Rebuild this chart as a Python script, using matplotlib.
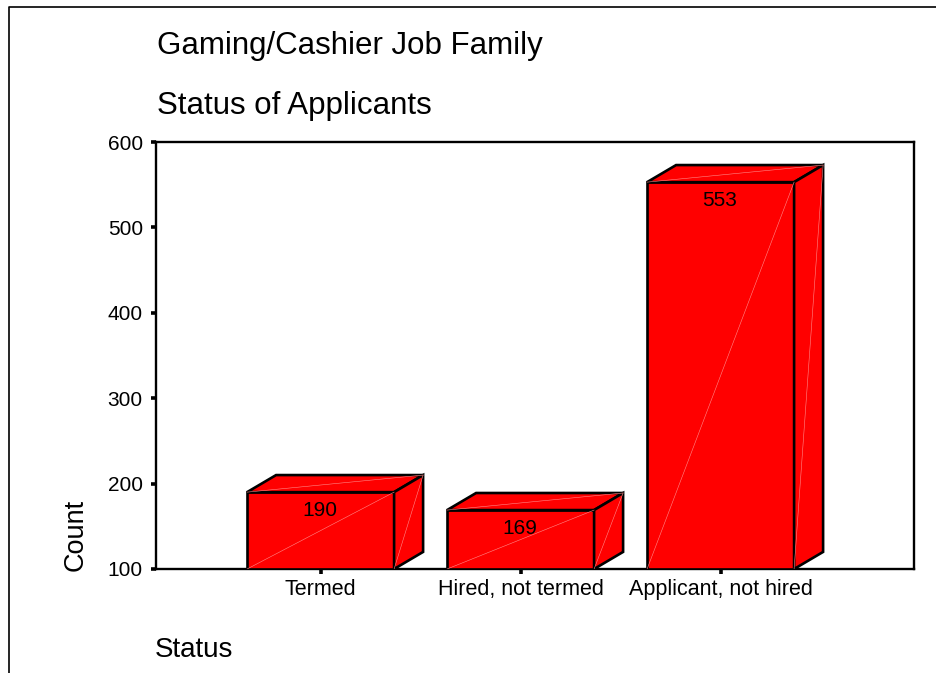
import matplotlib
matplotlib.use("Agg")
import matplotlib.pyplot as plt
from matplotlib.lines import Line2D
from matplotlib.patches import Polygon

plt.rcParams["font.family"] = ["Liberation Sans", "DejaVu Sans"]

# Chart data
categories = ["Termed", "Hired, not termed", "Applicant, not hired"]
counts = [190, 169, 553]
y_ticks = [100, 200, 300, 400, 500, 600]

BASE = 100
BAR_WIDTH = 0.735
# Offset of the back face of each 3D bar, in data units
DEPTH_X = 0.145
DEPTH_Y = 20
RED = "#ff0000"
SEAM = "#ff8a8a"

W, H = 937, 673
fig = plt.figure(figsize=(W / 100, H / 100), dpi=100)
ax = fig.add_axes([156 / W, 1 - 569 / H, 758 / W, 427 / H])
ax.set_xlim(-0.823, 2.967)
ax.set_ylim(BASE, 600)

# Front faces
xs = list(range(len(categories)))
ax.bar(xs, [c - BASE for c in counts], BAR_WIDTH, bottom=BASE, color=RED,
       edgecolor="black", linewidth=1.9, zorder=3)

for x, c in zip(xs, counts):
    l = x - BAR_WIDTH / 2
    r = x + BAR_WIDTH / 2
    # Thin seams across each face, under the outlines
    ax.plot([l, r], [BASE, c], color=SEAM, lw=0.4, zorder=4)
    # Top and side faces
    ax.add_patch(Polygon([(l, c), (l + DEPTH_X, c + DEPTH_Y),
                          (r + DEPTH_X, c + DEPTH_Y), (r, c)],
                         facecolor=RED, edgecolor="black", linewidth=1.9, zorder=3))
    ax.add_patch(Polygon([(r, BASE), (r + DEPTH_X, BASE + DEPTH_Y),
                          (r + DEPTH_X, c + DEPTH_Y), (r, c)],
                         facecolor=RED, edgecolor="black", linewidth=1.9, zorder=3))
    ax.plot([l, r + DEPTH_X], [c, c + DEPTH_Y], color=SEAM, lw=0.4, zorder=4)
    ax.plot([r, r + DEPTH_X], [BASE, c + DEPTH_Y], color=SEAM, lw=0.4, zorder=4)
    ax.annotate(str(c), (x, c), xytext=(-1, -18), textcoords="offset pixels",
                ha="center", va="center", fontsize=15, color="black", zorder=5)

ax.set_xticks(xs)
ax.set_xticklabels(categories, fontsize=15.5)
ax.set_yticks(y_ticks)
ax.tick_params(axis="y", labelsize=15, width=2.6, length=3.5, pad=6)
ax.tick_params(axis="x", width=2.6, length=3.5, pad=4)
for spine in ax.spines.values():
    spine.set_linewidth(1.7)

# Titles and axis captions are placed in figure space
fig.text(157 / W, 1 - 46 / H, "Gaming/Cashier Job Family", fontsize=22.5, va="center")
fig.text(157 / W, 1 - 106 / H, "Status of Applicants", fontsize=22.5, va="center")
fig.text(155 / W, 1 - 650 / H, "Status", fontsize=20, va="center")
fig.text(76 / W, 1 - 535 / H, "Count", fontsize=19.5, rotation=90, ha="center", va="center")

# Outer border, open at the right and bottom
fig.add_artist(Line2D([9 / W, 9 / W, 1], [0, 1 - 7 / H, 1 - 7 / H], color="black", lw=1.2))

fig.savefig("out.png", dpi=100)
